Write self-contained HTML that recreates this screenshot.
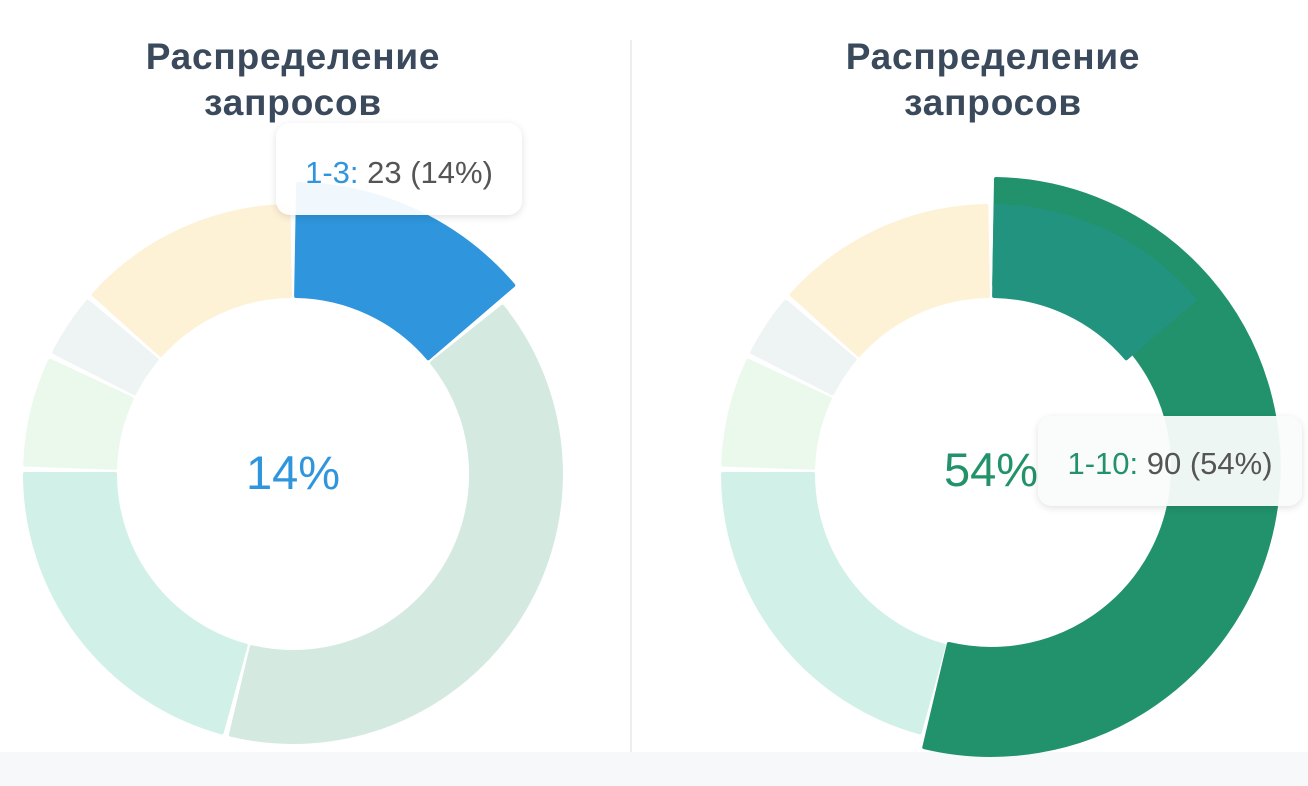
<!DOCTYPE html>
<html><head><meta charset="utf-8"><style>
html,body{margin:0;padding:0;background:#fff;width:1308px;height:786px;overflow:hidden;font-family:"Liberation Sans","DejaVu Sans",sans-serif}
.t{position:absolute;font-weight:bold;font-size:37px;letter-spacing:0.8px;color:#3a4a5c;text-align:center;line-height:46px;width:560px}
.tip{position:absolute;background:rgba(255,255,255,0.93);border-radius:14px;box-shadow:0 2px 8px rgba(0,0,0,0.12);font-size:31px;color:#555;line-height:1;display:flex;align-items:center;justify-content:center}
.c{position:absolute;font-size:47px;width:200px;text-align:center;line-height:1}
</style></head><body>
<div style="position:absolute;left:0;top:752px;width:1308px;height:34px;background:#f6f8fa"></div>
<div style="position:absolute;left:630px;top:40px;width:2px;height:712px;background:#eceef0"></div>
<div class="t" style="left:13px;top:34px">Распределение<br>запросов</div>
<div class="t" style="left:713px;top:34px">Распределение<br>запросов</div>
<svg id="s" width="1308" height="786" style="position:absolute;left:0;top:0"></svg>
<div class="c" style="left:193px;top:449px;color:#2f95dc">14%</div>
<div class="c" style="left:891px;top:446px;color:#219269;width:200px">54%</div>
<div class="tip" style="left:276px;top:123px;width:246px;height:92px;padding-top:6px;box-sizing:border-box"><span style="color:#2f95dc">1-3:</span>&nbsp;23 (14%)</div>
<div class="tip" style="left:1038px;top:416px;width:264px;height:90px;padding-top:4px;box-sizing:border-box;background:rgba(250,252,252,0.95)"><span style="color:#219269">1-10:</span>&nbsp;90 (54%)</div>
<script>
var s=document.getElementById('s');
function arc(cx,cy,r0,r1,a0,a1,col){
 var g=1.0, p=function(r,a){a=(a-90)*Math.PI/180;return (cx+r*Math.cos(a)).toFixed(1)+','+(cy+r*Math.sin(a)).toFixed(1)};
 a0+=g;a1-=g;var la=(a1-a0)>180?1:0;
 var d='M'+p(r1,a0)+' A'+r1+','+r1+' 0 '+la+' 1 '+p(r1,a1)+' L'+p(r0,a1)+' A'+r0+','+r0+' 0 '+la+' 0 '+p(r0,a0)+'Z';
 var e=document.createElementNS('http://www.w3.org/2000/svg','path');
 e.setAttribute('d',d);e.setAttribute('fill',col);e.setAttribute('stroke',col);e.setAttribute('stroke-width','4');e.setAttribute('stroke-linejoin','round');
 s.appendChild(e);}
var R=268,r=178,RH=290;
arc(293,474,r,RH,0,50.4,'#2f95dc');
arc(293,474,r,R,50.4,194.4,'#d4e9e0');
arc(293,474,r,R,194.4,271,'#d1f0e8');
arc(293,474,r,R,271,296,'#ebf8ec');
arc(293,474,r,R,296,311,'#eef3f3');
arc(293,474,r,R,311,360,'#fdf1d6');
arc(991,467,r+4,288,0,194.4,'#21926b');
arc(991,474,r,R,0,50.4,'#22937f');
arc(991,474,r,R,194.4,271,'#d1f0e8');
arc(991,474,r,R,271,296,'#ebf8ec');
arc(991,474,r,R,296,311,'#eef3f3');
arc(991,474,r,R,311,360,'#fdf1d6');
</script>
</body></html>
